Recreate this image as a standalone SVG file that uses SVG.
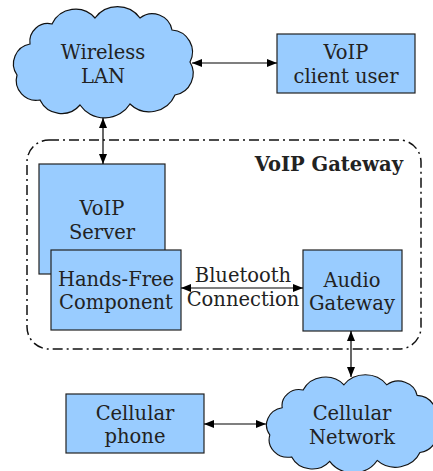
<svg xmlns="http://www.w3.org/2000/svg" width="433" height="471" viewBox="0 0 433 471">
<style>
.box{fill:#99ccff;stroke:#222;stroke-width:1.2}
.cloud{fill:#99ccff;stroke:#111;stroke-width:1.2}
.t{font-family:"DejaVu Serif",serif;font-size:19.5px;fill:#222;text-anchor:middle}
.b{font-family:"DejaVu Serif",serif;font-size:19.5px;font-weight:bold;fill:#222;text-anchor:end}
.c{stroke:#000;stroke-width:1.2;fill:none;marker-start:url(#ah);marker-end:url(#ah)}
</style>
<defs>
<marker id="ah" viewBox="0 0 10 8" refX="10" refY="4" markerWidth="10" markerHeight="8" markerUnits="userSpaceOnUse" orient="auto-start-reverse">
<path d="M0,0 L10,4 L0,8 Z" fill="#000"/>
</marker>
<path id="cl" d="M16,36 A18,18 0 0 1 38,16 A26,26 0 0 1 81,10 A28,28 0 0 1 126,10 A20,20 0 0 1 158,22 A22,22 0 0 1 176,54 A22,22 0 0 1 161,87 A28,28 0 0 1 116,96 A30,30 0 0 1 66,97 A24,24 0 0 1 26,92 A20,20 0 0 1 3,67 A20,20 0 0 1 16,36 Z"/>
</defs>
<g id="gateway">
<rect x="27" y="140" width="394" height="209" rx="22" ry="22" fill="none" stroke="#111" stroke-width="1.5" stroke-dasharray="10 4 2 4"/>
<text class="b" x="403" y="171">VoIP Gateway</text>
</g>
<g id="wireless-lan">
<use href="#cl" class="cloud" transform="translate(14,8)"/>
<text class="t" x="103" y="59">Wireless</text>
<text class="t" x="103" y="83">LAN</text>
</g>
<g id="voip-client">
<rect class="box" x="277" y="34" width="138" height="59"/>
<text class="t" x="346" y="59">VoIP</text>
<text class="t" x="346" y="83">client user</text>
</g>
<g id="voip-server">
<rect class="box" x="39" y="164" width="126" height="110"/>
<text class="t" x="102" y="215">VoIP</text>
<text class="t" x="102" y="239">Server</text>
</g>
<g id="hands-free">
<rect class="box" x="51" y="250" width="130" height="80"/>
<text class="t" x="116" y="286">Hands-Free</text>
<text class="t" x="116" y="309">Component</text>
</g>
<g id="audio-gateway">
<rect class="box" x="303" y="250" width="99" height="81"/>
<text class="t" x="352" y="287">Audio</text>
<text class="t" x="352" y="310">Gateway</text>
</g>
<g id="cellular-network">
<use href="#cl" class="cloud" transform="translate(267,376) scale(0.95,0.88)"/>
<text class="t" x="352" y="420">Cellular</text>
<text class="t" x="352" y="444">Network</text>
</g>
<g id="cellular-phone">
<rect class="box" x="66" y="394" width="138" height="59"/>
<text class="t" x="135" y="420">Cellular</text>
<text class="t" x="135" y="443">phone</text>
</g>
<g id="connectors">
<line class="c" x1="192" y1="63" x2="277" y2="63"/>
<line class="c" x1="103" y1="118" x2="103" y2="164"/>
<line class="c" x1="181" y1="288" x2="303" y2="288"/>
<line class="c" x1="351" y1="331" x2="351" y2="377"/>
<line class="c" x1="204" y1="424" x2="266" y2="424"/>
<text class="t" x="243" y="282">Bluetooth</text>
<text class="t" x="243" y="306">Connection</text>
</g>
</svg>
